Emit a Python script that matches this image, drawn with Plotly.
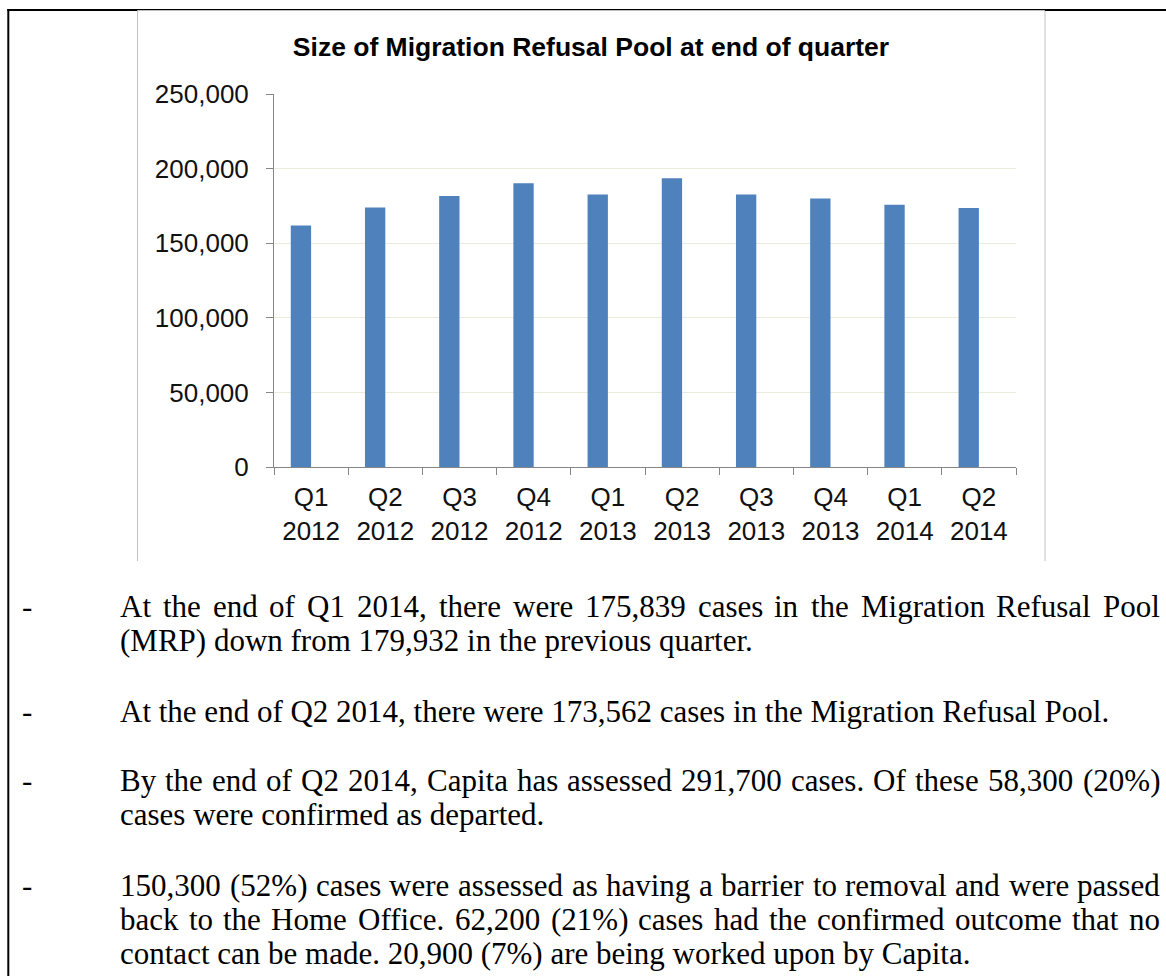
import plotly.graph_objects as go

# ---------------- data ----------------
quarters = ["Q1", "Q2", "Q3", "Q4", "Q1", "Q2", "Q3", "Q4", "Q1", "Q2"]
years = ["2012", "2012", "2012", "2012", "2013", "2013", "2013", "2013", "2014", "2014"]
pool_size = [161800, 173900, 181700, 190200, 182600, 193600, 182600, 179932, 175839, 173562]
y_ticks = [0, 50000, 100000, 150000, 200000, 250000]
chart_title = "Size of Migration Refusal Pool at end of quarter"

paragraphs = [
    [("At the end of Q1 2014, there were 175,839 cases in the Migration Refusal Pool", True),
     ("(MRP) down from 179,932 in the previous quarter.", False)],
    [("At the end of Q2 2014, there were 173,562 cases in the Migration Refusal Pool.", False)],
    [("By the end of Q2 2014, Capita has assessed 291,700 cases. Of these 58,300 (20%)", True),
     ("cases were confirmed as departed.", False)],
    [("150,300 (52%) cases were assessed as having a barrier to removal and were passed", True),
     ("back to the Home Office. 62,200 (21%) cases had the confirmed outcome that no", True),
     ("contact can be made. 20,900 (7%) are being worked upon by Capita.", False)],
]
line_y = [[606, 640], [711], [780, 814], [885, 919, 953]]

# ---------------- geometry ----------------
W, H = 1166, 976
ML, MR, MT, MB = 274, 150, 94, 509
PW, PH = W - ML - MR, H - MT - MB


def px(x):
    return (x - ML) / PW


def py(y):
    return (H - MB - y) / PH


categories = [f"{q}<br>{y}" for q, y in zip(quarters, years)]

fig = go.Figure()
fig.add_trace(go.Bar(
    x=categories, y=pool_size,
    marker=dict(color="#4F81BD", line=dict(width=0)),
    width=0.274, offset=-0.274,
    hoverinfo="x+y",
))

TICKFONT = dict(family="Liberation Sans, Arial, sans-serif", size=26, color="#111111")

fig.update_layout(
    width=W, height=H,
    margin=dict(l=ML, r=MR, t=MT, b=MB),
    paper_bgcolor="white", plot_bgcolor="white",
    showlegend=False,
    title=dict(text="<b>" + chart_title + "</b>", x=591 / W, xref="container", xanchor="center",
               y=1 - 47 / H, yref="container", yanchor="middle",
               font=dict(family="Liberation Sans, Arial, sans-serif", size=26.5, color="#000000")),
    xaxis=dict(type="category", range=[-0.5, len(categories) - 0.5],
               showline=True, linecolor="#868686", linewidth=1,
               ticks="outside", ticklen=7, tickcolor="#868686", tickson="boundaries",
               showgrid=False, tickfont=TICKFONT, ticklabelstandoff=7, fixedrange=True),
    yaxis=dict(range=[0, 250000], tickvals=y_ticks, tickformat=",",
               showline=True, linecolor="#868686", linewidth=1,
               ticks="outside", ticklen=7, tickcolor="#868686",
               showgrid=True, gridcolor="#EBEBDC", gridwidth=1, zeroline=False,
               tickfont=TICKFONT, ticklabelstandoff=12, fixedrange=True),
)

shapes = []
# chart frame (grey verticals)
for xv in (137.5, 1045):
    shapes.append(dict(type="line", xref="paper", yref="paper", x0=px(xv), x1=px(xv),
                       y0=py(10), y1=py(561), line=dict(color="#C0C0C0", width=1)))
# page border (black)
shapes.append(dict(type="line", xref="paper", yref="paper", x0=px(8.3), x1=px(8.3),
                   y0=py(9), y1=py(H + 2), line=dict(color="black", width=2)))
shapes.append(dict(type="line", xref="paper", yref="paper", x0=px(7.3), x1=px(137),
                   y0=py(10), y1=py(10), line=dict(color="black", width=2)))
shapes.append(dict(type="line", xref="paper", yref="paper", x0=px(137), x1=px(1045),
                   y0=py(9.7), y1=py(9.7), line=dict(color="black", width=1.2)))
shapes.append(dict(type="line", xref="paper", yref="paper", x0=px(1045), x1=px(W + 2),
                   y0=py(10), y1=py(10), line=dict(color="black", width=2)))
fig.update_layout(shapes=shapes)

# ---------------- body text ----------------
TW = {' ': 250, 'a': 444, 'b': 500, 'c': 444, 'd': 500, 'e': 444, 'f': 333, 'g': 500, 'h': 500,
      'i': 278, 'j': 278, 'k': 500, 'l': 278, 'm': 778, 'n': 500, 'o': 500, 'p': 500, 'q': 500,
      'r': 333, 's': 389, 't': 278, 'u': 500, 'v': 500, 'w': 722, 'x': 500, 'y': 500, 'z': 444,
      'A': 722, 'B': 667, 'C': 667, 'D': 722, 'E': 611, 'F': 556, 'G': 722, 'H': 722, 'I': 333,
      'J': 389, 'K': 722, 'L': 611, 'M': 889, 'N': 722, 'O': 722, 'P': 556, 'Q': 722, 'R': 667,
      'S': 556, 'T': 611, 'U': 722, 'V': 722, 'W': 944, 'X': 722, 'Y': 722, 'Z': 611,
      ',': 250, '.': 250, '(': 333, ')': 333, '%': 833, '-': 333}
FS = 31
BODY = dict(family="Liberation Serif, Times New Roman, serif", size=FS, color="#000000")


def word_w(w):
    return sum(TW.get(c, 500) for c in w) * FS / 1000.0


annotations = []
X0, X1 = 120, 1160
for para, ys in zip(paragraphs, line_y):
    annotations.append(dict(text="-", x=px(27), y=py(ys[0]), xref="paper", yref="paper",
                            xanchor="center", yanchor="middle", showarrow=False, font=BODY))
    for (line, justify), yv in zip(para, ys):
        if justify:
            words = line.split(" ")
            ws = [word_w(w) for w in words]
            gap = (X1 - X0 - sum(ws)) / (len(words) - 1)
            cur = X0
            for w, wd in zip(words, ws):
                annotations.append(dict(text=w, x=px(cur + wd / 2), y=py(yv), xref="paper", yref="paper",
                                        xanchor="center", yanchor="middle", showarrow=False, font=BODY))
                cur += wd + gap
        else:
            annotations.append(dict(text=line, x=px(X0 - 2), y=py(yv), xref="paper", yref="paper",
                                    xanchor="left", yanchor="middle", showarrow=False, font=BODY))
fig.update_layout(annotations=annotations)

fig.write_html("out.html", config={"displayModeBar": False},
               post_script="document.body.style.margin='0';document.body.style.overflow='hidden';")
